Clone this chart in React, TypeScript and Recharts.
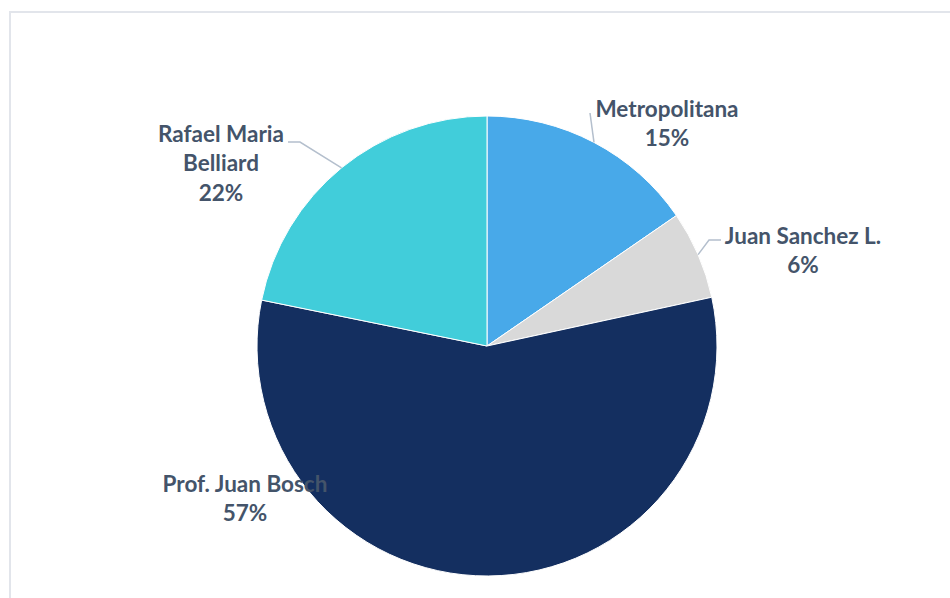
import React from "react";
import {Cell, Pie, PieChart} from "recharts";

const categories = ["Metropolitana", "Juan Sanchez L.", "Prof. Juan Bosch", "Rafael Maria Belliard"];
const shares = [15.4, 6.2, 56.6, 21.8];
const labelLines = [["Metropolitana"], ["Juan Sanchez L."], ["Prof. Juan Bosch"], ["Rafael Maria", "Belliard"]];

const colors = ["#48a9e9", "#d9d9d9", "#142f60", "#41cdda"];
const textColor = "#44546a";
const leaderColor = "#b4bfcd";

const CX = 487;
const CY = 346;
const RADIAN = Math.PI / 180;

// where each label sits, relative to the pie centre (text centre x, first line y, leader points)
const labelLayout = [
    {dx: 180, dy: -238, leader: [[103, -233]]},
    {dx: 316, dy: -111, leader: [[222, -106], [234, -106]]},
    {dx: -242, dy: 137, leader: []},
    {dx: -266, dy: -213, leader: [[-187, -204], [-199, -204]]},
];

const data = categories.map((name, i) => ({name, value: shares[i]}));

const renderLabel = (props: any) => {
    const {cx, cy, midAngle, outerRadius, index, percent} = props;
    const layout = labelLayout[index];
    const sx = cx + outerRadius * Math.cos(-midAngle * RADIAN);
    const sy = cy + outerRadius * Math.sin(-midAngle * RADIAN);
    const lines = [...labelLines[index], `${Math.round(percent * 100)}%`];
    const pts = layout.leader.length
        ? [[sx, sy], ...layout.leader.map(([x, y]) => [cx + x, cy + y])]
        : [];
    return (
        <g key={`lbl-${index}`}>
            {pts.length > 0 && (
                <polyline
                    points={pts.map((p) => p.join(",")).join(" ")}
                    fill="none"
                    stroke={leaderColor}
                    strokeWidth={1.5}
                />
            )}
            <text
                x={cx + layout.dx}
                textAnchor="middle"
                fill={textColor}
                fontFamily="Lato, 'Open Sans', sans-serif"
                fontWeight="bold"
                fontSize={22.5}
            >
                {lines.map((line, i) => (
                    <tspan key={i} x={cx + layout.dx} y={cy + layout.dy + i * 29.5} dominantBaseline="central">
                        {line}
                    </tspan>
                ))}
            </text>
        </g>
    );
};

export default function App() {
    return (
        <div style={{position: "absolute", left: 0, top: 0, width: 950, height: 598, overflow: "hidden", background: "#fff"}}>
            <div
                style={{
                    position: "absolute",
                    left: 9,
                    top: 11,
                    width: 960,
                    height: 620,
                    border: "2px solid #e2e5eb",
                    boxSizing: "border-box",
                }}
            />
            <div style={{position: "absolute", left: 0, top: 0}}>
                <PieChart width={950} height={598} margin={{top: 0, right: 0, bottom: 0, left: 0}}>
                    <Pie
                        data={data}
                        dataKey="value"
                        nameKey="name"
                        cx={CX}
                        cy={CY}
                        outerRadius={230}
                        startAngle={90}
                        endAngle={-270}
                        stroke="#fff"
                        strokeWidth={1}
                        label={renderLabel}
                        labelLine={false}
                        isAnimationActive={false}
                    >
                        {data.map((d, i) => (
                            <Cell key={d.name} fill={colors[i]}/>
                        ))}
                    </Pie>
                </PieChart>
            </div>
        </div>
    );
}
